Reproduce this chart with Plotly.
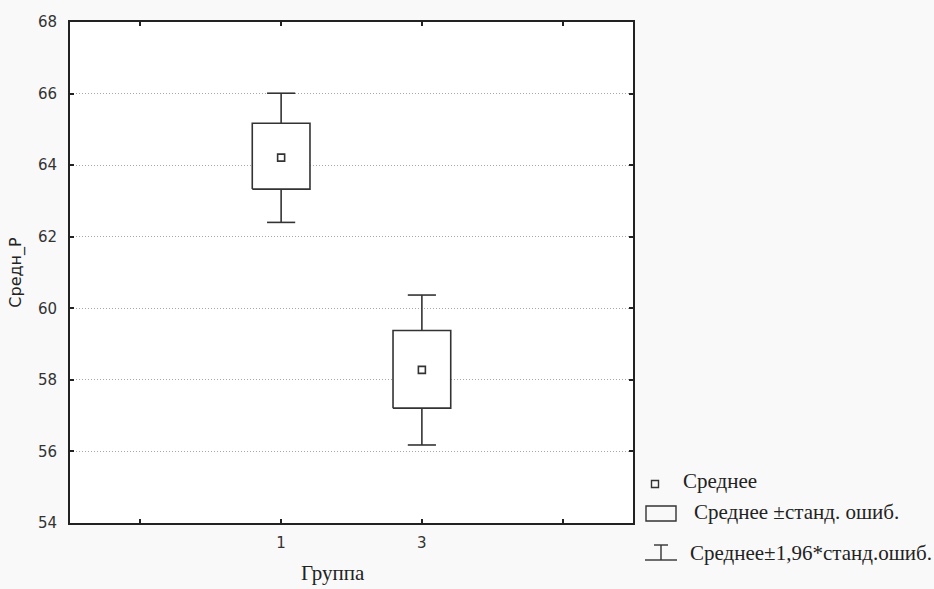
import plotly.graph_objects as go

# ---- data ----
groups = ["1", "3"]
group_pos = [2, 3]
means = [64.21, 58.28]
se_low = [63.33, 57.21]
se_high = [65.17, 59.38]
ci_low = [62.40, 56.18]
ci_high = [66.01, 60.37]
x_tickvals = [1, 2, 3, 4]
x_ticktext = ["", "1", "3", ""]
y_ticks = [54, 56, 58, 60, 62, 64, 66, 68]

W, H = 934, 589
L, R, T, B = 70, 633, 22, 523

LINE = "#333333"
box_half = 0.205
cap_half = 0.1
SERIF = "Liberation Serif"
SANS = "DejaVu Sans"

fig = go.Figure()

for i, g in enumerate(groups):
    x = group_pos[i]
    # whiskers (±1.96*SE)
    fig.add_trace(go.Scatter(
        x=[x - cap_half, x + cap_half, None, x, x, None, x, x, None, x - cap_half, x + cap_half],
        y=[ci_high[i], ci_high[i], None, ci_high[i], se_high[i], None, se_low[i], ci_low[i], None, ci_low[i], ci_low[i]],
        mode="lines", line=dict(color=LINE, width=1.6), showlegend=False, hoverinfo="skip"))
    # box (±SE)
    fig.add_trace(go.Scatter(
        x=[x - box_half, x + box_half, x + box_half, x - box_half, x - box_half],
        y=[se_low[i], se_low[i], se_high[i], se_high[i], se_low[i]],
        mode="lines", line=dict(color=LINE, width=1.6), fill="toself", fillcolor="white",
        showlegend=False, hoverinfo="skip"))

# means
fig.add_trace(go.Scatter(
    x=group_pos, y=means, mode="markers",
    marker=dict(symbol="square-open", size=7, color=LINE, line=dict(width=1.6)),
    showlegend=False))

fig.update_layout(
    width=W, height=H,
    margin=dict(l=L, r=W - R, t=T, b=H - B),
    paper_bgcolor="#f9f9f9", plot_bgcolor="white",
    showlegend=False,
    font=dict(family=SANS, size=13, color="#333333"),
)

fig.update_xaxes(
    range=[0.5, 4.5], tickvals=x_tickvals, ticktext=x_ticktext,
    showgrid=False, zeroline=False,
    showline=True, linecolor="#222222", linewidth=2, mirror="ticks",
    ticks="inside", ticklen=4, tickwidth=1.5, tickcolor="#222222",
    tickfont=dict(family=SANS, size=15, color="#333333"),
    ticklabelstandoff=5,
)
fig.update_yaxes(
    range=[54, 68], tickvals=y_ticks,
    showgrid=True, gridcolor="#a8a8a8", griddash="1px,2px", gridwidth=1,
    zeroline=False,
    showline=True, linecolor="#222222", linewidth=2, mirror="ticks",
    ticks="inside", ticklen=4, tickwidth=1.5, tickcolor="#222222",
    tickfont=dict(family=SANS, size=15, color="#333333"),
    ticklabelstandoff=8,
    title=dict(text="Средн_Р", font=dict(family=SANS, size=16, color="#222222"), standoff=12),
)


def px(xp):
    return (xp - L) / (R - L)


def py(yp):
    return (B - yp) / (B - T)


# x axis title
fig.add_annotation(text="Группа", xref="paper", yref="paper", x=px(333), y=py(573),
                   showarrow=False, xanchor="center", yanchor="middle",
                   font=dict(family=SERIF, size=21, color="#222222"))

# legend (drawn manually)
shape_line = dict(color=LINE, width=1.4)
fig.add_shape(type="rect", xref="paper", yref="paper",
              x0=px(651.5), x1=px(658.5), y0=py(487.5), y1=py(480.5), line=shape_line)
fig.add_shape(type="rect", xref="paper", yref="paper",
              x0=px(646), x1=px(676), y0=py(521), y1=py(506), line=shape_line)
fig.add_shape(type="line", xref="paper", yref="paper",
              x0=px(645), x1=px(677), y0=py(560), y1=py(560), line=shape_line)
fig.add_shape(type="line", xref="paper", yref="paper",
              x0=px(661), x1=px(661), y0=py(560), y1=py(545), line=shape_line)
fig.add_shape(type="line", xref="paper", yref="paper",
              x0=px(654), x1=px(668), y0=py(545), y1=py(545), line=shape_line)

leg_font = dict(family=SERIF, size=21, color="#222222")
fig.add_annotation(text="Среднее", xref="paper", yref="paper", x=px(681), y=py(481),
                   showarrow=False, xanchor="left", yanchor="middle", font=leg_font)
fig.add_annotation(text="Среднее ±станд. ошиб.", xref="paper", yref="paper", x=px(692), y=py(512),
                   showarrow=False, xanchor="left", yanchor="middle", font=leg_font)
fig.add_annotation(text="Среднее±1,96*станд.ошиб.", xref="paper", yref="paper", x=px(688), y=py(553),
                   showarrow=False, xanchor="left", yanchor="middle", font=leg_font)

fig.write_html("out.html", config={"displayModeBar": False},
               post_script="document.body.style.margin='0';document.body.style.padding='0';")
